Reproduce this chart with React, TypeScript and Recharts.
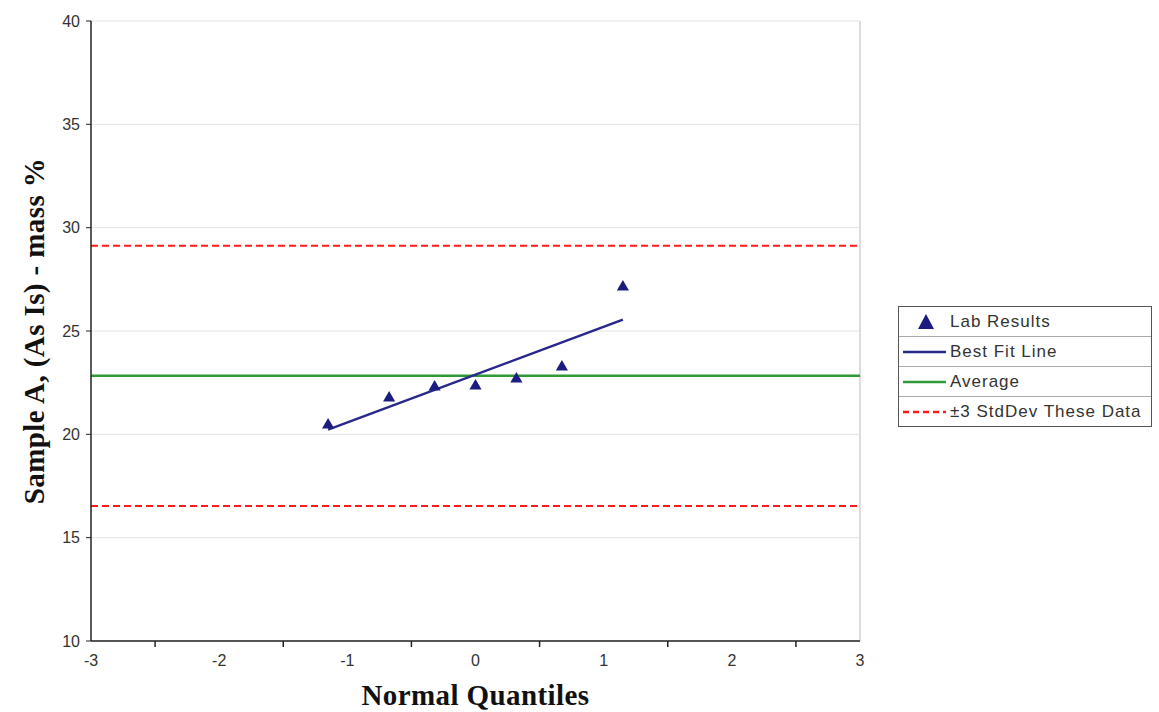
import { ScatterChart, Scatter, XAxis, YAxis, ZAxis, CartesianGrid, ReferenceLine, Legend } from 'recharts';

// normal quantiles i/(n+1) and the matching lab results
const QUANTILES = [-1.15, -0.674, -0.319, 0, 0.319, 0.674, 1.15];
const LAB_RESULTS = [20.45, 21.76, 22.29, 22.34, 22.68, 23.26, 27.13];

const FIT_X = [-1.15, 1.15];
const FIT_Y = [20.23, 25.55];

const AVERAGE = 22.83;
const STDDEV_LIMITS = [29.12, 16.53];

const Y_TICKS = [10, 15, 20, 25, 30, 35, 40];
const X_LABEL_TICKS = [-3, -2, -1, 0, 1, 2, 3];
const X_MARK_TICKS = [-2.5, -1.5, -0.5, 0.5, 1.5, 2.5];

const LEGEND_LABELS = ['Lab Results', 'Best Fit Line', 'Average', '±3 StdDev These Data'];

const NAVY = '#1c1c80';
const FIT = '#27288a';
const GREEN = '#2f9a35';
const RED = '#ff1a1a';

const labData = QUANTILES.map((x, i) => ({ x, y: LAB_RESULTS[i] }));
const fitData = FIT_X.map((x, i) => ({ x, y: FIT_Y[i] }));
const xTicks = [...X_LABEL_TICKS, ...X_MARK_TICKS].sort((a, b) => a - b);

const titleStyle = {
  fontFamily: '"Liberation Serif", "Times New Roman", serif',
  fontWeight: 'bold',
  fontSize: 29,
  letterSpacing: 0.4,
  fill: '#111',
};

function XTick(props: any) {
  const { x, y, payload } = props;
  if (X_LABEL_TICKS.includes(payload.value)) {
    return (
      <text x={x} y={y} dy={19} textAnchor="middle" fontSize={16} fill="#333">
        {payload.value}
      </text>
    );
  }
  return <line x1={x} x2={x} y1={y - 6} y2={y} stroke="#222" strokeWidth={1.5} />;
}

function Swatch({ index }: { index: number }) {
  if (index === 0) {
    return (
      <svg width={50} height={20}>
        <polygon points="27,2 35,17 19,17" fill={NAVY} />
      </svg>
    );
  }
  const stroke = index === 1 ? FIT : index === 2 ? GREEN : RED;
  return (
    <svg width={50} height={20}>
      <line x1={4} x2={47} y1={10} y2={10} stroke={stroke} strokeWidth={2.5}
        strokeDasharray={index === 3 ? '6 4' : undefined} />
    </svg>
  );
}

function LegendBox() {
  return (
    <div style={{ border: '1px solid #555', background: '#fff', width: 252 }}>
      {LEGEND_LABELS.map((label, i) => (
        <div key={label} style={{
          display: 'flex', alignItems: 'center', height: 29,
          borderTop: i > 0 ? '1px solid #aaa' : 'none',
          fontSize: 17, letterSpacing: 1, color: '#333', whiteSpace: 'nowrap',
        }}>
          <Swatch index={i} />
          <span style={{ marginLeft: 1 }}>{label}</span>
        </div>
      ))}
    </div>
  );
}

export default function App() {
  return (
    <div style={{ position: 'absolute', left: 0, top: 0, background: '#fff', fontFamily: '"Liberation Sans", Arial, sans-serif' }}>
      <ScatterChart width={1159} height={712} margin={{ top: 21, right: 299, bottom: 0, left: 0 }}>
        <CartesianGrid vertical={false} stroke="#e3e3e3" />
        <XAxis
          type="number"
          dataKey="x"
          domain={[-3, 3]}
          ticks={xTicks}
          interval={0}
          height={71}
          tickLine={false}
          tickSize={6}
          tickMargin={0}
          tick={<XTick />}
          axisLine={{ stroke: '#222', strokeWidth: 1.5 }}
          label={{ value: 'Normal Quantiles', position: 'center', dy: 18, style: titleStyle }}
        />
        <YAxis
          type="number"
          dataKey="y"
          domain={[10, 40]}
          ticks={Y_TICKS}
          interval={0}
          width={91}
          tickSize={5}
          tickMargin={6}
          tick={{ fontSize: 16, fill: '#333' }}
          tickLine={{ stroke: '#222' }}
          axisLine={{ stroke: '#222', strokeWidth: 1.5 }}
          label={{ value: 'Sample A, (As Is) - mass %', angle: -90, position: 'center', dx: -12, style: titleStyle }}
        />
        <ZAxis range={[28, 28]} />
        <ReferenceLine x={3} stroke="#dcdcdc" strokeWidth={2} />
        {STDDEV_LIMITS.map((v) => (
          <ReferenceLine key={v} y={v} stroke={RED} strokeWidth={2} strokeDasharray="7 4" />
        ))}
        <ReferenceLine y={AVERAGE} stroke={GREEN} strokeWidth={2.5} />
        <Scatter
          name="Best Fit Line"
          data={fitData}
          line={{ stroke: FIT, strokeWidth: 2.5 }}
          lineType="joint"
          shape={() => <g />}
          isAnimationActive={false}
        />
        <Scatter name="Lab Results" data={labData} fill={NAVY} shape="triangle" isAnimationActive={false} />
        <Legend
          layout="horizontal"
          verticalAlign="middle"
          align="center"
          content={() => <LegendBox />}
          wrapperStyle={{ position: 'absolute', left: 898, top: 306, width: 254 }}
        />
      </ScatterChart>
    </div>
  );
}
